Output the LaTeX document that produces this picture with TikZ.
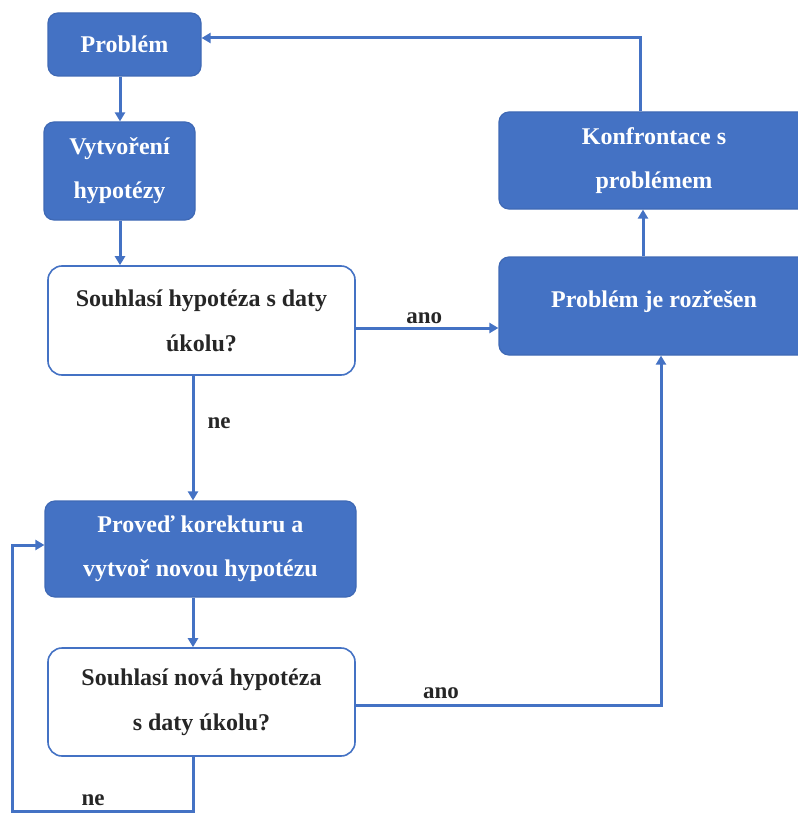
\documentclass[tikz,border=0pt]{standalone}
\usepackage{fontspec}
\setmainfont{Liberation Serif}
\usetikzlibrary{arrows.meta}
\definecolor{blu}{HTML}{4472C4}
\definecolor{bluedge}{HTML}{3F69B5}
\definecolor{txt}{HTML}{262626}
\begin{document}
\begin{tikzpicture}[x=1pt,y=-1pt,
  bluebox/.style={draw=bluedge, fill=blu, rounded corners=10pt, line width=1.2pt,
    text=white, font=\fontsize{24}{44}\selectfont\bfseries, align=center, inner sep=0pt},
  whitebox/.style={draw=blu, fill=white, rounded corners=14pt, line width=1.6pt,
    text=txt, font=\fontsize{24}{45}\selectfont\bfseries, align=center, inner sep=0pt},
  arr/.style={draw=blu, line width=3pt, -{Triangle[length=9pt,width=10pt]}},
  lbl/.style={font=\fontsize{23}{24}\selectfont\bfseries, text=txt, inner sep=1pt}
]
\useasboundingbox (0,0) rectangle (797,813);

% nodes
\node[bluebox, minimum width=153pt, minimum height=63pt] (prob) at (124.5,44.5) {Problém};
\node[bluebox, minimum width=151pt, minimum height=98pt] (vyt) at (119.5,171) {Vytvoření\\hypotézy};
\node[whitebox, minimum width=307pt, minimum height=109pt] (s1) at (201.5,320.5) {Souhlasí hypotéza s daty\\úkolu?};
\node[bluebox, minimum width=310pt, minimum height=97pt] (konf) at (654,160.5) {Konfrontace s\\problémem};
\node[bluebox, minimum width=310pt, minimum height=98pt, text depth=14pt] (roz) at (654,306) {Problém je rozřešen};
\node[bluebox, minimum width=311pt, minimum height=96pt] (prov) at (200.5,549) {Proveď korekturu a\\vytvoř novou hypotézu};
\node[whitebox, minimum width=307pt, minimum height=108pt] (s2) at (201.5,702) {Souhlasí nová hypotéza\\s daty úkolu?};

% helper coordinates
\coordinate (c120) at (120,0);
\coordinate (c193) at (193,0);
\coordinate (c640) at (640,0);
\coordinate (c643) at (643,0);
\coordinate (c661) at (661,0);
\coordinate (y38) at (0,38);
\coordinate (y328) at (0,328);
\coordinate (y705) at (0,705);
\coordinate (b1) at (193,811);
\coordinate (b2) at (12,811);
\coordinate (b3) at (12,545);

% connectors
\draw[arr] (prob.south -| c120) -- (vyt.north -| c120);
\draw[arr] (vyt.south -| c120) -- (s1.north -| c120);
\draw[arr] (s1.south -| c193) -- node[lbl, right=12pt, pos=0.38] (ne1) {ne} (prov.north -| c193);
\draw[arr] (s1.east |- y328) -- node[lbl, above=2pt, pos=0.48] (ano1) {ano} (roz.west |- y328);
\draw[arr] (roz.north -| c643) -- (konf.south -| c643);
\draw[arr] (konf.north -| c640) |- (prob.east |- y38);
\draw[arr] (prov.south -| c193) -- (s2.north -| c193);
\draw[arr] (s2.east |- y705) -| (roz.south -| c661);
\node[lbl] (ano2) at (441,693) {ano};
\draw[arr] (s2.south -| c193) -- (b1) -- (b2) -- (b3) -- (prov.west |- b3);
\node[lbl] (ne2) at (93,800) {ne};
\end{tikzpicture}
\end{document}
